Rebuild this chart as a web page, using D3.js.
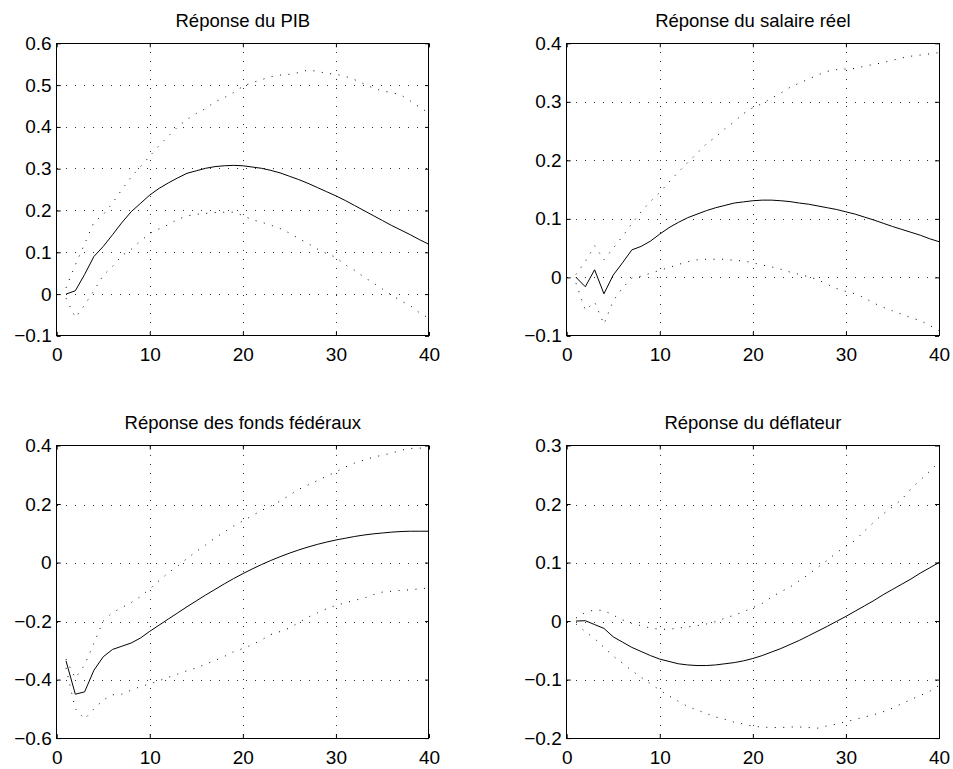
<!DOCTYPE html>
<html>
<head>
<meta charset="utf-8">
<script src="https://cdn.jsdelivr.net/npm/d3@7"></script>
<style>
  body { margin: 0; background: #fff; }
  svg { display: block; }
  text { font-family: "Liberation Sans", Arial, Helvetica, sans-serif; fill: #000; }
  .grid line { stroke: #333; stroke-width: 1; stroke-dasharray: 1,8; shape-rendering: crispEdges; }
  .band { fill: none; stroke: #000; stroke-width: 1; stroke-dasharray: 1,7.5; }
  .irf { fill: none; stroke: #000; stroke-width: 1; }
  .frame { fill: none; stroke: #000; stroke-width: 1; shape-rendering: crispEdges; }
</style>
</head>
<body>
<div id="chart"></div>
<script>
//horizons (quarters)
var horizons = [1,2,3,4,5,6,7,8,9,10,11,12,13,14,15,16,17,18,19,20,
                21,22,23,24,25,26,27,28,29,30,31,32,33,34,35,36,37,38,39,40];
var xTicks = [0, 10, 20, 30, 40];

//Réponse du PIB
var pibTicks = [-0.1, 0, 0.1, 0.2, 0.3, 0.4, 0.5, 0.6];
var pibIrf = [0, 0.008, 0.047, 0.09, 0.114, 0.142, 0.171, 0.197, 0.217, 0.237,
              0.253, 0.266, 0.278, 0.289, 0.295, 0.301, 0.305, 0.307, 0.308, 0.307,
              0.304, 0.301, 0.296, 0.29, 0.282, 0.274, 0.265, 0.255, 0.245, 0.235,
              0.224, 0.212, 0.2, 0.188, 0.176, 0.164, 0.153, 0.142, 0.13, 0.119];
var pibHaut = [0.015, 0.07, 0.12, 0.172, 0.19, 0.218, 0.25, 0.28, 0.305, 0.33,
               0.355, 0.378, 0.4, 0.418, 0.432, 0.444, 0.46, 0.47, 0.482, 0.497,
               0.506, 0.513, 0.52, 0.524, 0.526, 0.53, 0.536, 0.533, 0.528, 0.526,
               0.521, 0.513, 0.503, 0.493, 0.486, 0.482, 0.476, 0.462, 0.447, 0.433];
var pibBas = [-0.01, -0.056, -0.026, 0.008, 0.045, 0.066, 0.092, 0.107, 0.127, 0.145,
              0.156, 0.166, 0.179, 0.187, 0.191, 0.193, 0.195, 0.196, 0.196, 0.188,
              0.178, 0.172, 0.165, 0.157, 0.146, 0.133, 0.121, 0.108, 0.097, 0.088,
              0.07, 0.057, 0.041, 0.027, 0.012, -0.003, -0.016, -0.028, -0.045, -0.058];

//Réponse du salaire réel
var salTicks = [-0.1, 0, 0.1, 0.2, 0.3, 0.4];
var salIrf = [0, -0.016, 0.013, -0.028, 0.004, 0.025, 0.047, 0.053, 0.062, 0.074,
              0.085, 0.094, 0.102, 0.108, 0.114, 0.119, 0.123, 0.127, 0.129, 0.131,
              0.132, 0.132, 0.131, 0.1295, 0.127, 0.125, 0.122, 0.119, 0.116, 0.112,
              0.108, 0.103, 0.098, 0.0925, 0.087, 0.082, 0.077, 0.072, 0.066, 0.061];
var salHaut = [0.005, 0.027, 0.054, 0.03, 0.05, 0.07, 0.092, 0.112, 0.13, 0.145,
               0.163, 0.18, 0.196, 0.212, 0.228, 0.24, 0.254, 0.266, 0.28, 0.29,
               0.297, 0.306, 0.315, 0.325, 0.332, 0.339, 0.346, 0.352, 0.355, 0.356,
               0.357, 0.361, 0.364, 0.367, 0.371, 0.375, 0.378, 0.38, 0.382, 0.384];
var salBas = [-0.01, -0.056, -0.042, -0.08, -0.04, -0.018, -0.001, 0.002, 0.007, 0.012,
              0.017, 0.022, 0.027, 0.03, 0.031, 0.031, 0.031, 0.029, 0.028, 0.025,
              0.021, 0.018, 0.014, 0.009, 0.005, 0.001, -0.004, -0.012, -0.019, -0.024,
              -0.028, -0.035, -0.044, -0.051, -0.057, -0.063, -0.069, -0.074, -0.082, -0.091];

//Réponse des fonds fédéraux
var ffTicks = [-0.6, -0.4, -0.2, 0, 0.2, 0.4];
var ffIrf = [-0.336, -0.45, -0.442, -0.368, -0.322, -0.297, -0.286, -0.275, -0.258, -0.235,
             -0.214, -0.193, -0.172, -0.151, -0.131, -0.111, -0.092, -0.073, -0.055, -0.038,
             -0.022, -0.007, 0.007, 0.02, 0.032, 0.043, 0.053, 0.062, 0.07, 0.077,
             0.083, 0.089, 0.094, 0.098, 0.101, 0.104, 0.106, 0.107, 0.107, 0.107];
var ffHaut = [-0.33, -0.395, -0.35, -0.275, -0.2, -0.171, -0.154, -0.137, -0.116, -0.09,
              -0.062, -0.035, -0.012, 0.014, 0.038, 0.06, 0.084, 0.104, 0.125, 0.142,
              0.16, 0.178, 0.193, 0.21, 0.23, 0.25, 0.265, 0.28, 0.295, 0.31,
              0.326, 0.34, 0.35, 0.36, 0.367, 0.374, 0.384, 0.39, 0.391, 0.393];
var ffBas = [-0.36, -0.5, -0.535, -0.5, -0.47, -0.452, -0.45, -0.436, -0.424, -0.415,
             -0.404, -0.392, -0.381, -0.37, -0.36, -0.347, -0.335, -0.321, -0.305, -0.294,
             -0.281, -0.265, -0.246, -0.236, -0.224, -0.205, -0.187, -0.172, -0.158, -0.146,
             -0.138, -0.129, -0.122, -0.11, -0.101, -0.098, -0.095, -0.093, -0.09, -0.087];

//Réponse du déflateur
var defTicks = [-0.2, -0.1, 0, 0.1, 0.2, 0.3];
var defIrf = [0, 0.0006, -0.006, -0.0125, -0.027, -0.036, -0.045, -0.052, -0.059, -0.065,
              -0.069, -0.073, -0.075, -0.076, -0.076, -0.075, -0.073, -0.071, -0.068, -0.064,
              -0.059, -0.053, -0.047, -0.04, -0.033, -0.025, -0.017, -0.009, -0.0005, 0.008,
              0.017, 0.026, 0.035, 0.045, 0.054, 0.063, 0.072, 0.082, 0.091, 0.1];
var defHaut = [0.005, 0.015, 0.019, 0.018, 0.01, 0.002, -0.004, -0.008, -0.012, -0.014,
               -0.014, -0.012, -0.01, -0.008, -0.005, -0.001, 0.005, 0.01, 0.016, 0.023,
               0.03, 0.041, 0.05, 0.058, 0.069, 0.08, 0.092, 0.104, 0.117, 0.128,
               0.138, 0.154, 0.169, 0.183, 0.195, 0.208, 0.226, 0.241, 0.256, 0.272];
var defBas = [-0.005, -0.018, -0.03, -0.045, -0.06, -0.072, -0.085, -0.096, -0.107, -0.118,
              -0.128, -0.137, -0.146, -0.152, -0.158, -0.164, -0.168, -0.173, -0.176, -0.18,
              -0.181, -0.182, -0.182, -0.181, -0.181, -0.182, -0.183, -0.179, -0.176, -0.172,
              -0.168, -0.164, -0.16, -0.155, -0.149, -0.141, -0.134, -0.127, -0.12, -0.11];

var titles = ["Réponse du PIB", "Réponse du salaire réel",
              "Réponse des fonds fédéraux", "Réponse du déflateur"];

//layout of the 2x2 grid of axes
var width = 953, height = 769;
var colLeft = [56.7, 566.7], rowTop = [43.3, 445.5];
var plotW = 372.3, plotH = 292.6;

var panels = [
  {title: titles[0], ticks: pibTicks, irf: pibIrf, haut: pibHaut, bas: pibBas, col: 0, row: 0},
  {title: titles[1], ticks: salTicks, irf: salIrf, haut: salHaut, bas: salBas, col: 1, row: 0},
  {title: titles[2], ticks: ffTicks, irf: ffIrf, haut: ffHaut, bas: ffBas, col: 0, row: 1},
  {title: titles[3], ticks: defTicks, irf: defIrf, haut: defHaut, bas: defBas, col: 1, row: 1}
];

var svg = d3.select("#chart")
            .append("svg")
            .attr("width", width)
            .attr("height", height);

var fmtY = function(v) {
  if (Math.abs(v) < 1e-9) return "0";
  return d3.format(".1f")(v);   // d3 v7 uses the true minus sign
};

panels.forEach(function(p) {
  var g = svg.append("g")
             .attr("transform", "translate(" + colLeft[p.col] + "," + rowTop[p.row] + ")");

  var x = d3.scaleLinear().domain([0, 40]).range([0, plotW]);
  var y = d3.scaleLinear().domain(d3.extent(p.ticks)).range([plotH, 0]);

  // dotted grid
  var grid = g.append("g").attr("class", "grid");
  grid.selectAll(".gx")
      .data(xTicks.slice(1, -1))
      .enter().append("line")
      .attr("x1", function(d) { return Math.round(x(d)) + 0.5; })
      .attr("x2", function(d) { return Math.round(x(d)) + 0.5; })
      .attr("y1", 0).attr("y2", plotH);
  grid.selectAll(".gy")
      .data(p.ticks.slice(1, -1))
      .enter().append("line")
      .attr("y1", function(d) { return Math.round(y(d)) + 0.5; })
      .attr("y2", function(d) { return Math.round(y(d)) + 0.5; })
      .attr("x1", 0).attr("x2", plotW);

  // axes, ticks pointing inwards like matlab
  g.append("g")
   .attr("transform", "translate(0," + plotH + ")")
   .call(d3.axisBottom(x).tickValues(xTicks).tickSize(-4).tickPadding(12)
           .tickFormat(d3.format("d")));
  g.append("g")
   .call(d3.axisLeft(y).tickValues(p.ticks).tickSize(-4).tickPadding(5)
           .tickFormat(fmtY));
  g.append("g")
   .call(d3.axisTop(x).tickValues(xTicks).tickSize(-4).tickFormat(""));
  g.append("g")
   .attr("transform", "translate(" + plotW + ",0)")
   .call(d3.axisRight(y).tickValues(p.ticks).tickSize(-4).tickFormat(""));

  g.selectAll(".domain").remove();
  g.selectAll(".tick line").attr("stroke", "#000");
  g.selectAll(".tick text")
   .style("font-size", "19px")
   .attr("font-family", null);

  // confidence band and response
  var line = d3.line()
               .x(function(d, i) { return x(horizons[i]); })
               .y(function(d) { return y(d); });

  g.append("path").datum(p.haut).attr("class", "band").attr("d", line);
  g.append("path").datum(p.bas).attr("class", "band").attr("d", line);
  g.append("path").datum(p.irf).attr("class", "irf").attr("d", line);

  g.append("rect")
   .attr("class", "frame")
   .attr("x", 0).attr("y", 0)
   .attr("width", plotW).attr("height", plotH);

  g.append("text")
   .attr("x", plotW / 2)
   .attr("y", -16.5)
   .attr("text-anchor", "middle")
   .style("font-size", "18.5px")
   .text(p.title);
});
</script>
</body>
</html>
